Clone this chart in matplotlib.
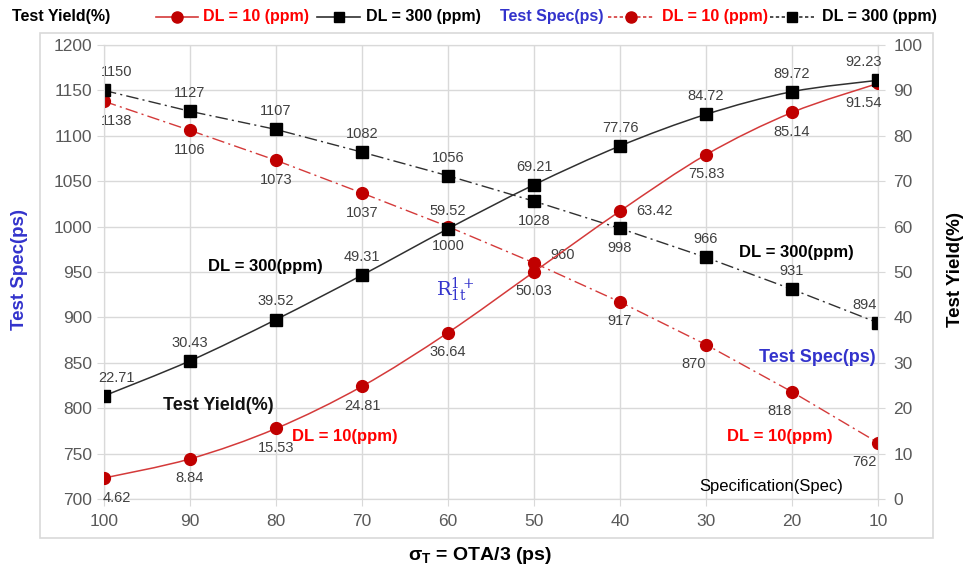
import matplotlib
matplotlib.use("Agg")
import matplotlib.pyplot as plt
from matplotlib.path import Path
from matplotlib.patches import PathPatch, Rectangle
from matplotlib.lines import Line2D
import numpy as np

plt.rcParams['font.family'] = ['Liberation Sans', 'DejaVu Sans']

sigma = [100, 90, 80, 70, 60, 50, 40, 30, 20, 10]
yield_dl10 = [4.62, 8.84, 15.53, 24.81, 36.64, 50.03, 63.42, 75.83, 85.14, 91.54]
yield_dl300 = [22.71, 30.43, 39.52, 49.31, 59.52, 69.21, 77.76, 84.72, 89.72, 92.23]
spec_dl10 = [1138, 1106, 1073, 1037, 1000, 960, 917, 870, 818, 762]
spec_dl300 = [1150, 1127, 1107, 1082, 1056, 1028, 998, 966, 931, 894]

RED_M = '#C00000'
RED_L = '#D43A3A'
RED_T = '#FF0000'
BLUE = '#3333CC'
GRID = '#D9D9D9'
TICK = '#595959'
LBL = '#404040'

fig = plt.figure(figsize=(9.74, 5.73), dpi=100)
# outer border
fig.patches.append(Rectangle((40/974, 35/573), (933-40)/974, (540-35)/573,
                             transform=fig.transFigure, fill=False,
                             edgecolor='#D9D9D9', lw=1.2))

ax = fig.add_axes([104/974, (573-499)/573, (878-104)/974, (499-45)/573])
ax2 = ax.twinx()

ax.set_xlim(100, 10)
ax.set_ylim(700, 1200)
ax2.set_ylim(0, 100)
ax.set_xticks(sigma)
ax.set_yticks(np.arange(700, 1201, 50))
ax2.set_yticks(np.arange(0, 101, 10))
ax.grid(True, color=GRID, lw=1)
ax.set_axisbelow(True)
for a in (ax, ax2):
    for s in a.spines.values():
        s.set_color(GRID)
    a.tick_params(colors=GRID, labelcolor=TICK, labelsize=12.5, length=5)
ax.tick_params(axis='x', pad=6)
ax2.tick_params(axis='y', pad=6)


def smooth_path(xs, ys):
    pts = np.column_stack([xs, ys]).astype(float)
    n = len(pts)
    verts = [pts[0]]
    codes = [Path.MOVETO]
    for i in range(n - 1):
        p0 = pts[i - 1] if i > 0 else pts[i]
        p1 = pts[i]
        p2 = pts[i + 1]
        p3 = pts[i + 2] if i + 2 < n else pts[i + 1]
        c1 = p1 + (p2 - p0) / 6.0
        c2 = p2 - (p3 - p1) / 6.0
        verts += [c1, c2, p2]
        codes += [Path.CURVE4] * 3
    return Path(verts, codes)


# yield curves (smooth)
ax2.add_patch(PathPatch(smooth_path(sigma, yield_dl10), fill=False, edgecolor=RED_L, lw=1.1, zorder=3))
ax2.add_patch(PathPatch(smooth_path(sigma, yield_dl300), fill=False, edgecolor='#303030', lw=1.1, zorder=3))
ax2.plot(sigma, yield_dl10, 'o', color=RED_M, ms=8.5, zorder=4)
ax2.plot(sigma, yield_dl300, 's', color='black', ms=8, zorder=4)

dashdot = (0, (9, 3, 1.5, 3))
ax.plot(sigma, spec_dl10, linestyle=dashdot, color=RED_L, lw=1.0, marker='o', ms=8.5,
        mfc=RED_M, mec=RED_M, zorder=4)
ax.plot(sigma, spec_dl300, linestyle=dashdot, color='#303030', lw=1.0, marker='s', ms=8,
        mfc='black', mec='black', zorder=4)

fs = 10.5


def lab(a, x, y, s, above, dx=None):
    if dx is None:
        dx = 9 if x == 100 else (-10 if x == 10 else 0)
    if above:
        a.annotate(s, (x, y), xytext=(dx, 8), textcoords='offset points',
                   ha='center', va='bottom', fontsize=fs, color=LBL)
    else:
        a.annotate(s, (x, y), xytext=(dx, -9), textcoords='offset points',
                   ha='center', va='top', fontsize=fs, color=LBL)


for x, y in zip(sigma, yield_dl10):
    if x == 40:
        ax2.annotate(f"{y:.2f}", (x, y), xytext=(12, 0), textcoords='offset points',
                     ha='left', va='center', fontsize=fs, color=LBL)
    else:
        lab(ax2, x, y, f"{y:.2f}", False)
for x, y in zip(sigma, yield_dl300):
    lab(ax2, x, y, f"{y:.2f}", True)
for x, y in zip(sigma, spec_dl10):
    if x == 50:
        ax.annotate(f"{y}", (x, y), xytext=(12, 1), textcoords='offset points',
                    ha='left', va='bottom', fontsize=fs, color=LBL)
    elif x in (30, 20):
        lab(ax, x, y, f"{y}", False, dx=-9)
    else:
        lab(ax, x, y, f"{y}", False)
for x, y in zip(sigma, spec_dl300):
    lab(ax, x, y, f"{y}", x not in (50, 40))


def ptext(px, py, s, **kw):
    fig.text(px/974, 1 - py/573, s, **kw)


ptext(265, 267, "DL = 300(ppm)", ha='center', va='center', fontsize=12, fontweight='bold', color='black')
ptext(218, 406, "Test Yield(%)", ha='center', va='center', fontsize=13, fontweight='bold', color='#111111')
ptext(345, 437, "DL = 10(ppm)", ha='center', va='center', fontsize=12, fontweight='bold', color=RED_T)
ptext(455, 290, r"$\mathrm{R}_{1\mathrm{t}}^{1+}$", ha='center', va='center', fontsize=14, color=BLUE,
      math_fontfamily='dejavuserif')
ptext(796, 253, "DL = 300(ppm)", ha='center', va='center', fontsize=12, fontweight='bold', color='black')
ptext(817, 358, "Test Spec(ps)", ha='center', va='center', fontsize=13, fontweight='bold', color=BLUE)
ptext(780, 437, "DL = 10(ppm)", ha='center', va='center', fontsize=12, fontweight='bold', color=RED_T)
ptext(771, 486, "Specification(Spec)", ha='center', va='center', fontsize=12, color='black')

# axis labels
ptext(20, 270, "Test Spec(ps)", ha='center', va='center', rotation=90, fontsize=13.5,
      fontweight='bold', color=BLUE)
ptext(955, 270, "Test Yield(%)", ha='center', va='center', rotation=90, fontsize=13.5,
      fontweight='bold', color='black')
ptext(480, 556, r"σ$_\mathregular{T}$ = OTA/3 (ps)", ha='center', va='center', fontsize=14,
      fontweight='bold', color='black')


# legend row at top
def legtext(px, s, color):
    fig.text(px/974, 1 - 17/573, s, ha='left', va='center', fontsize=11.5,
             fontweight='bold', color=color)


def legline(x0, x1, color, marker, dashed, mcolor):
    yy = 1 - 17/573
    ls = (0, (2, 1.5)) if dashed else '-'
    fig.add_artist(Line2D([x0/974, x1/974], [yy, yy], transform=fig.transFigure,
                          color=color, lw=1.2, linestyle=ls))
    fig.add_artist(Line2D([(x0+x1)/2/974], [yy], transform=fig.transFigure,
                          marker=marker, color=mcolor, ms=8 if marker == 'o' else 7.5, linestyle='none'))


legtext(12, "Test Yield(%)", 'black')
legline(156, 198, RED_L, 'o', False, RED_M)
legtext(203, "DL = 10 (ppm)", RED_T)
legline(317, 360, '#303030', 's', False, 'black')
legtext(366, "DL = 300 (ppm)", 'black')
legtext(500, "Test Spec(ps)", BLUE)
legline(608, 654, RED_L, 'o', True, RED_M)
legtext(662, "DL = 10 (ppm)", RED_T)
legline(770, 814, '#303030', 's', True, 'black')
legtext(822, "DL = 300 (ppm)", 'black')

fig.savefig("out.png", dpi=100)
